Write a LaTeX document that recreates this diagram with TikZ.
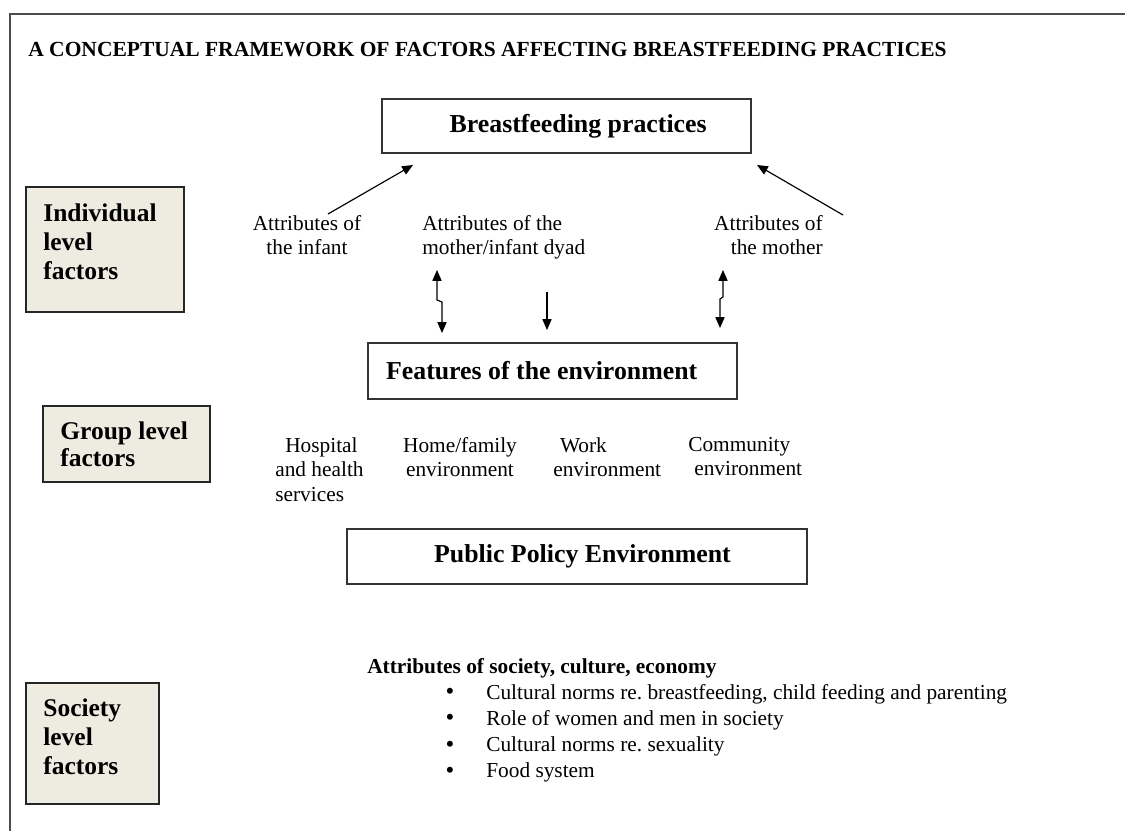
\documentclass[tikz,border=0pt]{standalone}
\usepackage{fontspec}
\setmainfont{Liberation Serif}
\usepackage{tikz}
\usetikzlibrary{arrows.meta}
\definecolor{lvlfill}{HTML}{EEECE1}
\tikzstyle{mybox} = [draw=black!80, line width=0.8pt, rectangle, inner sep=0pt,
    font=\fontsize{15.5}{18}\selectfont\bfseries]
\tikzstyle{lvlbox} = [draw=black!85, fill=lvlfill, line width=0.8pt, rectangle, inner sep=0pt]
\tikzstyle{lvltext} = [anchor=north west, align=left, inner sep=0pt,
    font=\fontsize{15.3}{17.6}\selectfont\bfseries]
\tikzstyle{mytext} = [inner sep=0pt, font=\fontsize{12.8}{14.7}\selectfont]
\tikzstyle{myarrow} = [line width=0.7pt, -{Triangle[width=5.5pt,length=6.5pt]}]
\tikzstyle{dblarrow} = [line width=0.7pt,
    {Triangle[width=5.5pt,length=6.5pt]}-{Triangle[width=5.5pt,length=6.5pt]}]
\begin{document}
\begin{tikzpicture}[x=0.6pt, y=-0.6pt]
    \path[use as bounding box, fill=white] (0,0) rectangle (1125,831);
    \draw[black!70, line width=0.9pt] (10,831) -- (10,14) -- (1125,14);
    \node[mytext, anchor=west, font=\fontsize{12.9}{15}\selectfont\bfseries] (title) at (28,50)
        {A CONCEPTUAL FRAMEWORK OF FACTORS AFFECTING BREASTFEEDING PRACTICES};
    % boxes in the middle
    \node[mybox, minimum width=221.4pt, minimum height=32.4pt] (box1) at (566.5,126)
        {\hspace*{14pt}Breastfeeding practices};
    \node[mybox, minimum width=221.4pt, minimum height=33.6pt] (box2) at (552.5,371)
        {Features of the environment\hspace*{13pt}};
    \node[mybox, minimum width=276pt, minimum height=33pt] (box3) at (577,556.5)
        {\hspace*{6.6pt}Public Policy Environment};
    % level boxes on the left
    \node[lvlbox, minimum width=94.8pt, minimum height=75pt] (lvl1) at (105,249.5) {};
    \node[lvltext] (lvl1text) at (43,203) {Individual\\level\\factors};
    \node[lvlbox, minimum width=100.2pt, minimum height=45.6pt] (lvl2) at (126.5,444) {};
    \node[lvltext, font=\fontsize{15.3}{16.4}\selectfont\bfseries] (lvl2text) at (60,421) {Group level\\factors};
    \node[lvlbox, minimum width=79.8pt, minimum height=72.6pt] (lvl3) at (92.5,743.5) {};
    \node[lvltext] (lvl3text) at (43,698) {Society\\level\\factors};
    % individual attributes
    \node[mytext, anchor=north, align=center] (infant) at (307,215) {Attributes of\\the infant};
    \node[mytext, anchor=north west, align=left] (dyad) at (422,215) {Attributes of the\\mother/infant dyad};
    \node[mytext, anchor=north east, align=right] (mother) at (823,215) {Attributes of\\the mother};
    % group features
    \node[mytext, anchor=north west, align=left] (hosp) at (275,437) {\hspace*{6pt}Hospital\\and health\\services};
    \node[mytext, anchor=north, align=center] (home) at (460,437) {Home/family\\environment};
    \node[mytext, anchor=north west, align=left] (work) at (553,437) {\hspace*{4pt}Work\\environment};
    \node[mytext, anchor=north west, align=left] (comm) at (688,437) {Community\\\hspace*{3.6pt}environment};
    % society attributes
    \node[mytext, anchor=west, font=\fontsize{12.8}{14.7}\selectfont\bfseries] (society) at (367,668)
        {Attributes of society, culture, economy};
    \foreach \txt [count=\i] in {{Cultural norms re.\ breastfeeding, child feeding and parenting},
        {Role of women and men in society}, {Cultural norms re.\ sexuality}, {Food system}}
    {
        \node[mytext, font=\fontsize{15}{15}\selectfont] (bullet\i) at (450,{694+(\i-1)*26.3}) {\textbullet};
        \node[mytext, anchor=west] (item\i) at (486,{694+(\i-1)*26.3}) {\txt};
    }
    % arrows
    \coordinate (infant top) at (328,214);
    \coordinate (box1 left) at (413,165);
    \coordinate (mother top) at (843,215);
    \coordinate (box1 right) at (757,165);
    \coordinate (dyad left) at (437,270);
    \coordinate (box2 left) at (442,333);
    \coordinate (dyad mid) at (547,292);
    \coordinate (box2 mid) at (547,330);
    \coordinate (mother bottom) at (723,270);
    \coordinate (box2 right) at (720,328);
    \draw[myarrow] (infant top) -- (box1 left);
    \draw[myarrow] (mother top) -- (box1 right);
    \draw[dblarrow] (dyad left) -- ++(0,30) -- ++(5,2) -- (box2 left);
    \draw[myarrow] (dyad mid) -- (box2 mid);
    \draw[dblarrow] (mother bottom) -- ++(0,27) -- ++(-3,2) -- (box2 right);
\end{tikzpicture}
\end{document}
